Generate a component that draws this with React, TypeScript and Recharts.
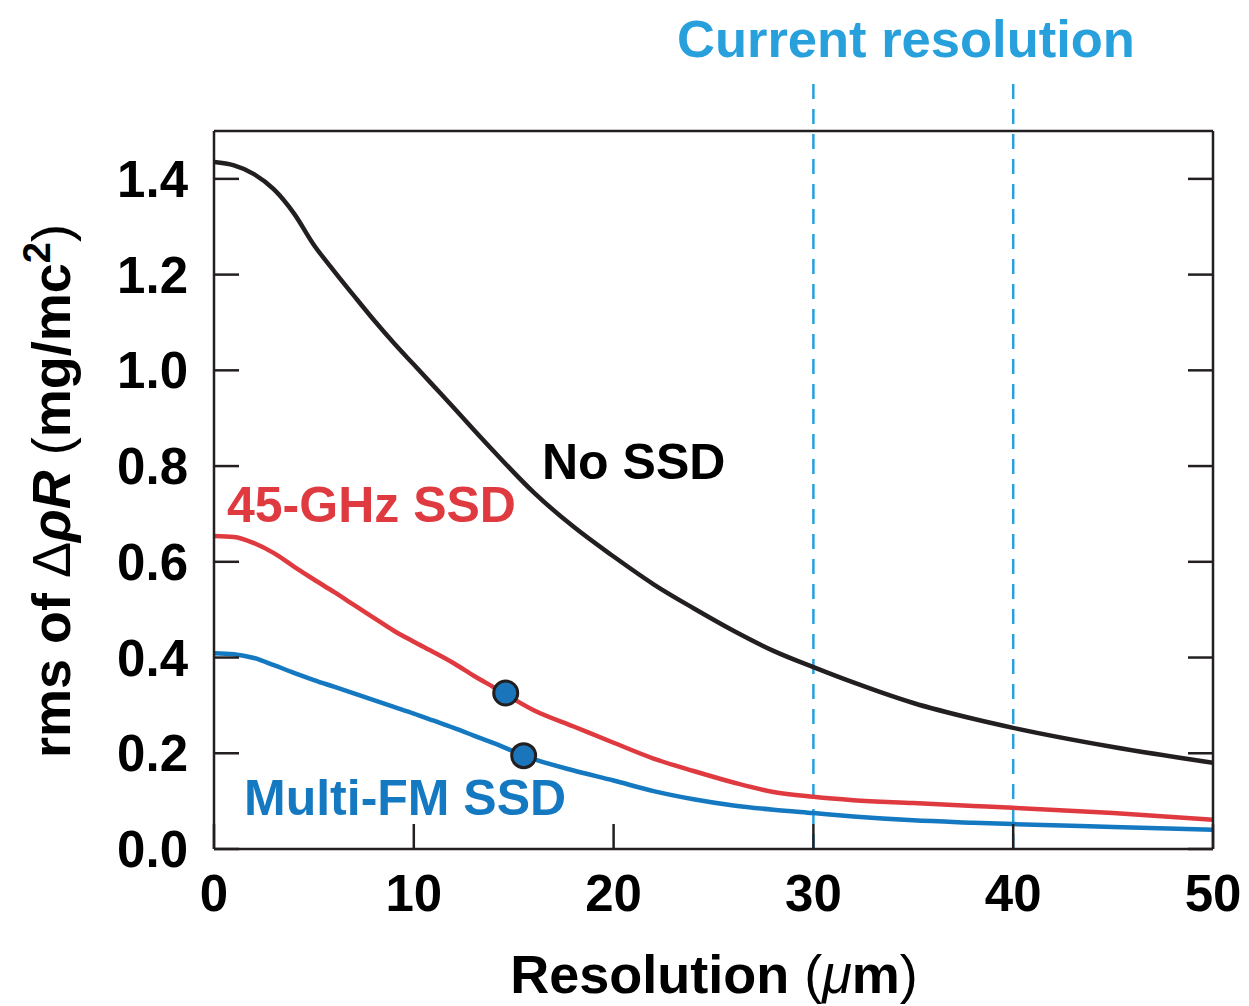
import { ComposedChart, Line, Scatter, XAxis, YAxis, ReferenceLine } from 'recharts'

// sampled resolution points (µm)
const resolution = [0, 1, 2, 3, 4, 5, 6, 7, 8, 9, 10, 11, 12, 13, 14, 16, 18, 20, 22, 24, 26, 28, 30, 32, 35, 38, 40, 45, 50]

// rms of ΔρR (mg/cm²), one value per resolution point
const noSsd = [1.435, 1.428, 1.41, 1.378, 1.328, 1.262, 1.208, 1.156, 1.105, 1.057, 1.012, 0.967, 0.922, 0.876, 0.831, 0.745, 0.673, 0.611, 0.553, 0.503, 0.456, 0.414, 0.38, 0.348, 0.305, 0.272, 0.253, 0.213, 0.18]
const ghz45 = [0.654, 0.652, 0.639, 0.618, 0.59, 0.563, 0.537, 0.51, 0.483, 0.456, 0.433, 0.411, 0.388, 0.362, 0.338, 0.29, 0.256, 0.222, 0.189, 0.163, 0.139, 0.119, 0.109, 0.102, 0.096, 0.09, 0.086, 0.075, 0.061]
const multiFm = [0.409, 0.407, 0.399, 0.384, 0.368, 0.353, 0.339, 0.325, 0.311, 0.297, 0.283, 0.268, 0.253, 0.237, 0.221, 0.188, 0.164, 0.143, 0.121, 0.104, 0.091, 0.082, 0.075, 0.068, 0.06, 0.055, 0.052, 0.046, 0.04]

// marked design points
const markerX = [14.6, 15.5]
const markerY = [0.326, 0.195]

const currentResolution = [30, 40]
const xTicks = [0, 10, 20, 30, 40, 50]
const yTicks = [0, 0.2, 0.4, 0.6, 0.8, 1.0, 1.2, 1.4]

const BLACK = '#231f20'
const RED = '#e03a41'
const BLUE = '#1479c0'
const SKY = '#27a0dc'
const FONT = '"Liberation Sans", Arial, Helvetica, sans-serif'

const toPoints = (ys: number[]) => resolution.map((x, i) => ({ x, y: ys[i] }))
const markers = markerX.map((x, i) => ({ x, y: markerY[i] }))

const axisStroke = { stroke: BLACK, strokeWidth: 2.5 }
const tickFont = { fill: '#000', fontSize: 51, fontWeight: 700, fontFamily: FONT }
const noLabel = () => <g />

export default function App() {
  return (
    <div style={{ position: 'absolute', left: 0, top: 0, width: 1249, height: 1006, background: '#fff', fontFamily: FONT }}>
      <ComposedChart width={1249} height={1006} margin={{ top: 130, right: 35, left: 114, bottom: 97 }}>
        <XAxis
          type="number"
          dataKey="x"
          domain={[0, 50]}
          ticks={xTicks}
          allowDataOverflow
          height={60}
          tickSize={-25}
          tickMargin={51}
          axisLine={axisStroke}
          tickLine={axisStroke}
          tick={tickFont}
        />
        <XAxis
          xAxisId="top"
          orientation="top"
          type="number"
          domain={[0, 50]}
          ticks={xTicks}
          allowDataOverflow
          height={1}
          tickSize={-25}
          tick={noLabel}
          axisLine={axisStroke}
          tickLine={axisStroke}
        />
        <YAxis
          type="number"
          domain={[0, 1.5]}
          ticks={yTicks}
          allowDataOverflow
          width={100}
          tickSize={-25}
          tickMargin={51}
          axisLine={axisStroke}
          tickLine={axisStroke}
          tick={tickFont}
          tickFormatter={(v: number) => v.toFixed(1)}
        />
        <YAxis
          yAxisId="right"
          orientation="right"
          type="number"
          domain={[0, 1.5]}
          ticks={yTicks}
          allowDataOverflow
          width={1}
          tickSize={-25}
          tick={noLabel}
          axisLine={axisStroke}
          tickLine={axisStroke}
        />

        {currentResolution.map((x) => (
          <ReferenceLine
            key={x}
            segment={[{ x, y: 0 }, { x, y: 1.61 }]}
            ifOverflow="visible"
            stroke={SKY}
            strokeWidth={2.5}
            strokeDasharray="15 10"
          />
        ))}

        <Line data={toPoints(noSsd)} dataKey="y" type="monotone" stroke={BLACK} strokeWidth={4.5} dot={false} isAnimationActive={false} />
        <Line data={toPoints(ghz45)} dataKey="y" type="monotone" stroke={RED} strokeWidth={4.5} dot={false} isAnimationActive={false} />
        <Line data={toPoints(multiFm)} dataKey="y" type="monotone" stroke={BLUE} strokeWidth={4.5} dot={false} isAnimationActive={false} />
        <Scatter
          data={markers}
          dataKey="y"
          isAnimationActive={false}
          shape={(p: any) => <circle cx={p.cx} cy={p.cy} r={12} fill="#1a75bb" stroke={BLACK} strokeWidth={3} />}
        />

        {/* labels */}
        <text x={677} y={57} fill={SKY} fontSize={52.5} fontWeight={700} fontFamily={FONT}>Current resolution</text>
        <text x={542} y={479} fill="#000" fontSize={50} fontWeight={700} fontFamily={FONT}>No SSD</text>
        <text x={227} y={522} fill={RED} fontSize={50} fontWeight={700} fontFamily={FONT}>45-GHz SSD</text>
        <text x={244} y={815} fill={BLUE} fontSize={50} fontWeight={700} fontFamily={FONT}>Multi-FM SSD</text>

        <text x={714} y={993} textAnchor="middle" fill="#000" fontSize={54} fontWeight={700} fontFamily={FONT}>
          Resolution <tspan fontWeight={400}>(</tspan><tspan fontStyle="italic" fontWeight={400}>μ</tspan>m<tspan fontWeight={400}>)</tspan>
        </text>
        <text
          x={70}
          y={491}
          transform="rotate(-90, 70, 491)"
          textAnchor="middle"
          fill="#000"
          fontSize={54}
          fontWeight={700}
          fontFamily={FONT}
        >
          rms of <tspan fontWeight={400}>Δ</tspan><tspan fontStyle="italic">ρR</tspan> <tspan fontWeight={400}>(</tspan>mg/mc<tspan dy={-20} fontSize={38}>2</tspan><tspan dy={20} fontWeight={400}>)</tspan>
        </text>
      </ComposedChart>
    </div>
  )
}
